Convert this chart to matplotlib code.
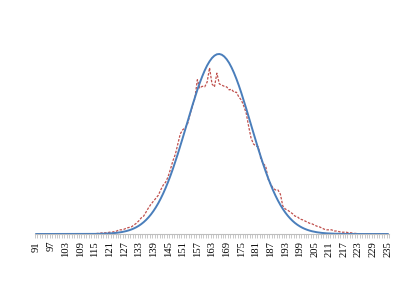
import matplotlib
matplotlib.use('Agg')
import matplotlib.pyplot as plt
import numpy as np

# categories 91..235
categories = list(range(91, 236))

# normal fit (percent)
normal_fit = [0.0] * 19 + [0.0003, 0.0005, 0.0007, 0.001, 0.0014, 0.0018,  # 110-115
    0.0025, 0.0033, 0.0043, 0.0056, 0.0073, 0.0095, 0.0123, 0.0157, 0.0201, 0.0254,  # 116-125
    0.0321, 0.0402, 0.0501, 0.0620, 0.0764, 0.0936, 0.1139, 0.1379, 0.1660, 0.1986,  # 126-135
    0.2364, 0.2797, 0.3289, 0.3848, 0.4476, 0.5174, 0.5950, 0.6800, 0.7727, 0.8733,  # 136-145
    0.9812, 1.096, 1.218, 1.345, 1.476, 1.612, 1.750, 1.889, 2.027, 2.162,  # 146-155
    2.294, 2.420, 2.538, 2.646, 2.744, 2.829, 2.899, 2.955, 2.994, 3.017,  # 156-165
    3.022, 3.010, 2.980, 2.934, 2.873, 2.796, 2.706, 2.604, 2.492, 2.370,  # 166-175
    2.242, 2.108, 1.972, 1.833, 1.694, 1.557, 1.423, 1.293, 1.168, 1.049,  # 176-185
    0.9371, 0.8323, 0.7347, 0.6449, 0.5627, 0.4884, 0.4215, 0.3617, 0.3085, 0.2616,  # 186-195
    0.2206, 0.1849, 0.1542, 0.1278, 0.1053, 0.0863, 0.0703, 0.0570, 0.0459, 0.0368,  # 196-205
    0.0293, 0.0232, 0.0182, 0.0143, 0.0111, 0.0086, 0.0066, 0.0051, 0.0038, 0.0029,  # 206-215
    0.0022, 0.0016, 0.0012, 0.0009, 0.0007, 0.0005, 0.0003] + [0.0] * 13  # 216-235

# observed frequency (percent)
observed = [0.0] * 25 + [0.01, 0.01, 0.02, 0.02, 0.02, 0.03, 0.03, 0.04, 0.05, 0.07,  # 116-125
    0.07, 0.08, 0.10, 0.11, 0.12, 0.15, 0.18, 0.22, 0.27, 0.30,  # 126-135
    0.37, 0.44, 0.50, 0.55, 0.60, 0.65, 0.74, 0.82, 0.87, 0.96,  # 136-145
    1.09, 1.23, 1.34, 1.51, 1.68, 1.75, 1.78, 1.85, 2.01, 2.15,  # 146-155
    2.28, 2.59, 2.45, 2.48, 2.47, 2.55, 2.79, 2.52, 2.47, 2.70,  # 156-165
    2.52, 2.50, 2.48, 2.47, 2.42, 2.43, 2.38, 2.38, 2.30, 2.25,  # 166-175
    2.15, 2.03, 1.81, 1.61, 1.51, 1.48, 1.46, 1.26, 1.18, 1.14,  # 176-185
    0.92, 0.84, 0.77, 0.74, 0.74, 0.67, 0.47, 0.42, 0.40, 0.37,  # 186-195
    0.34, 0.30, 0.29, 0.25, 0.24, 0.22, 0.20, 0.18, 0.17, 0.15,  # 196-205
    0.13, 0.12, 0.10, 0.08, 0.07, 0.07, 0.07, 0.05, 0.05, 0.04,  # 206-215
    0.03, 0.03, 0.03, 0.02, 0.02, 0.01, 0.01] + [0.0] * 13  # 216-235

tick_labels = categories[::6]

fig = plt.figure(figsize=(4.2, 2.97), dpi=100)
ax = fig.add_axes([35 / 420, 63 / 297, 354 / 420, 232 / 297])

ax.plot(categories, observed, color='#c0504d', linewidth=0.9, linestyle=(0, (2, 1.2)))
ax.plot(categories, normal_fit, color='#4a7ebb', linewidth=1.4)

ax.set_xlim(90.5, 235.5)
ax.set_ylim(0, 3.022 * 232 / 180)

ax.set_xticks(tick_labels)
ax.set_xticklabels([str(c) for c in tick_labels], rotation=90,
                   fontfamily='Liberation Serif', fontsize=7.6)
ax.tick_params(axis='x', which='major', length=0, pad=5)
ax.set_xticks(np.arange(90.5, 236, 1), minor=True)
ax.tick_params(axis='x', which='minor', length=3, color='#bfbfbf', width=0.6)
ax.set_yticks([])

for s in ['top', 'right', 'left']:
    ax.spines[s].set_visible(False)
ax.spines['bottom'].set_color('#bfbfbf')
ax.spines['bottom'].set_linewidth(0.8)

fig.savefig('out.png', dpi=100)
